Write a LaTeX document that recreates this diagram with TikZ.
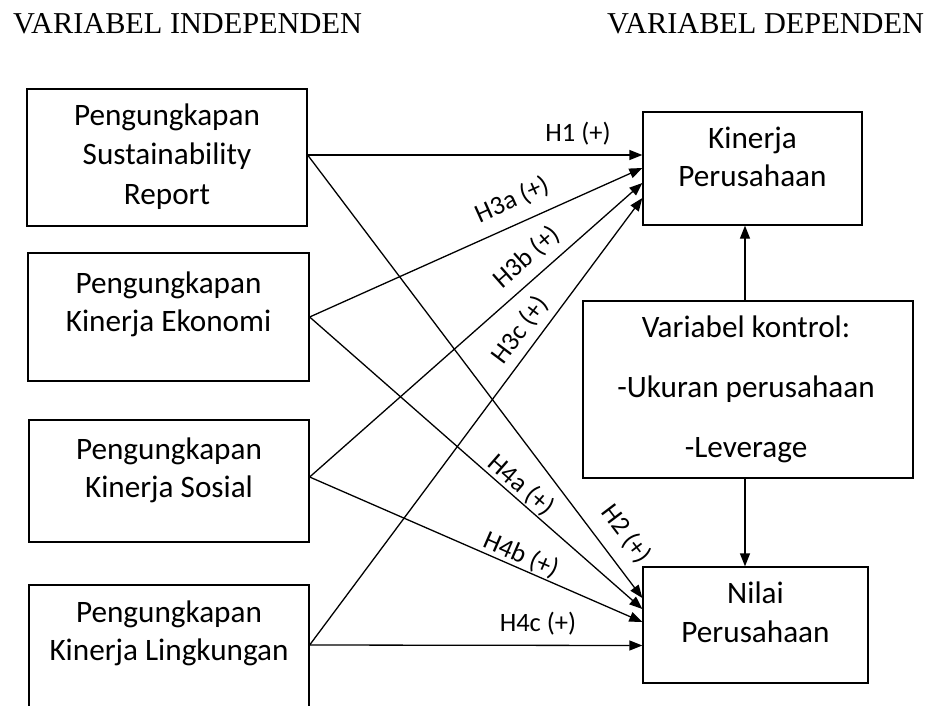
\documentclass[tikz,border=0pt]{standalone}
\usepackage{fontspec}
\setmainfont{Carlito}
\newfontfamily\titlefont{Liberation Serif}
\usetikzlibrary{arrows.meta}
\begin{document}
\begin{tikzpicture}[x=1pt,y=-1pt,
  box/.style={draw, line width=1.3pt, inner sep=0pt},
  btxt/.style={align=center, anchor=base, inner sep=0pt, font=\fontsize{31.2}{38}\selectfont},
  ctxt/.style={align=center, anchor=base, inner sep=0pt, font=\fontsize{31.2}{60}\selectfont},
  lbl/.style={inner sep=0pt, font=\fontsize{26.5}{30}\selectfont},
  ttl/.style={anchor=base west, inner sep=0pt, font=\titlefont\fontsize{30.3}{34}\selectfont},
  arr/.style={line width=1.3pt, -{Triangle[length=13pt,width=10pt]}}]
\useasboundingbox (0,0) rectangle (927,705);
% titles
\node[ttl] (t1) at (13,33) {VARIABEL INDEPENDEN};
\node[ttl] (t2) at (607,33) {VARIABEL DEPENDEN};
% left boxes
\node[box, minimum width=280pt, minimum height=137pt] (b1) at (167,157.5) {};
\node[box, minimum width=281pt, minimum height=128pt] (b2) at (168.5,317) {};
\node[box, minimum width=280pt, minimum height=122pt] (b3) at (169,481) {};
\node[box, minimum width=280pt, minimum height=124pt] (b4) at (169,647) {};
\node[btxt, font=\fontsize{31.2}{39.5}\selectfont] (x1) at (167,204) {Pengungkapan\\Sustainability\\Report};
\node[btxt] (x2) at (168.5,331) {Pengungkapan\\Kinerja Ekonomi};
\node[btxt] (x3) at (169,497) {Pengungkapan\\Kinerja Sosial};
\node[btxt] (x4) at (169,660) {Pengungkapan\\Kinerja Lingkungan};
% right boxes
\node[box, minimum width=219pt, minimum height=113pt] (k) at (752.5,168.5) {};
\node[btxt] (kt) at (752.5,186) {Kinerja\\Perusahaan};
\node[box, minimum width=330pt, minimum height=177pt] (c) at (748,389.5) {};
\node[ctxt] (ct) at (746,457) {Variabel kontrol:\\-Ukuran perusahaan\\-Leverage};
\node[box, minimum width=225pt, minimum height=116pt] (n) at (755.5,625) {};
\node[btxt, font=\fontsize{31.2}{39}\selectfont] (nt) at (755.5,642) {Nilai\\Perusahaan};
% connectors to Kinerja Perusahaan
\draw[arr] ([yshift=2.5pt]b1.east) -- ([yshift=13.5pt]k.west);
\draw[arr] (b2.east) -- ([yshift=0.5pt]k.west);
\draw[arr] ([yshift=4pt]b3.east) -- ([yshift=-14.5pt]k.west);
\draw[arr] ([yshift=2pt]b4.east) -- ([yshift=-29.5pt]k.west);
% connectors to Nilai Perusahaan
\draw[arr] ([yshift=2.5pt]b1.east) -- ([yshift=27pt]n.west);
\draw[arr] (b2.east) -- ([yshift=16pt]n.west);
\draw[arr] ([yshift=4pt]b3.east) -- ([yshift=3pt]n.west);
\draw[arr] ([yshift=2pt]b4.east) -- ([yshift=-20.5pt]n.west);
% control arrows
\draw[arr] ([xshift=-3pt]c.north) -- ([xshift=-3pt]c.north |- k.south);
\draw[arr] ([xshift=-3pt]c.south) -- ([xshift=-3pt]c.south |- n.north);
% labels
\node[lbl] (l1) at (578,134) {H1 (+)};
\node[lbl, rotate=24.2] (l3a) at (512,200) {H3a (+)};
\node[lbl, rotate=41.4] (l3b) at (527,257) {H3b (+)};
\node[lbl, rotate=53.2] (l3c) at (520,330) {H3c (+)};
\node[lbl, rotate=-52.8] (l2) at (626,534) {H2 (+)};
\node[lbl, rotate=-41.1] (l4a) at (521,485) {H4a (+)};
\node[lbl, rotate=-23.5] (l4b) at (521,555) {H4b (+)};
\node[lbl] (l4c) at (538,624) {H4c (+)};
\end{tikzpicture}
\end{document}
